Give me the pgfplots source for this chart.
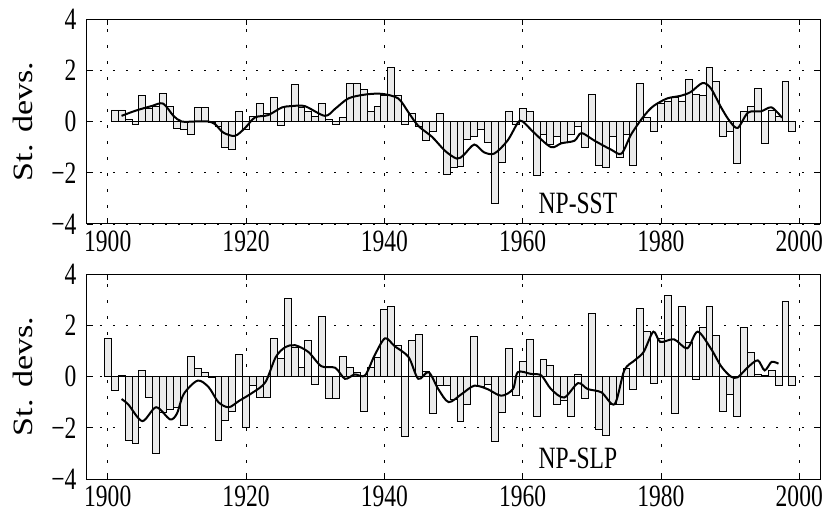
\documentclass[border=0pt]{standalone}
\usepackage{fontspec}
\setmainfont{Liberation Serif}[FakeStretch=0.76]
\usepackage{graphicx}
\usepackage{pgfplots}
\pgfplotsset{compat=1.18}

\pgfplotsset{
  npanel/.style={
    scale only axis, width=733bp, height=205bp,
    xmin=1897, xmax=2003, ymin=-4, ymax=4,
    xtick={1900,1920,...,2000},
    ytick={-4,-2,0,2,4}, yticklabels={−4,−2,0,2,4},
    /pgf/number format/1000 sep={},
    /pgf/number format/assume math mode=true,
    tick label style={font=\fontsize{31bp}{31bp}\selectfont},
    yticklabel style={xshift=-7bp},
    xticklabel style={yshift=-3bp},
    tick align=inside, major tick length=6bp,
    tick style={black, line width=0.9bp},
    axis line style={line width=1bp},
    grid=major,
    x grid style={black, line width=0.8bp, dash pattern=on 3bp off 13bp},
    y grid style={black, line width=0.9bp, dash pattern=on 2bp off 11bp},
    ylabel={\scalebox{1.6}[1.0]{St. devs.}},
    ylabel style={at={(axis description cs:-0.0873,0.5)}, anchor=center,
                  font=\fontsize{28bp}{28bp}\selectfont},
  },
  bars/.style={ybar, bar width=1, bar shift=0pt, fill=black!8, draw=black, line width=0.8bp},
  smoothline/.style={black, line width=2bp, smooth, mark=none},
}

\begin{document}
\begin{tikzpicture}
\path[use as bounding box] (-87bp,19bp) rectangle (741bp,-499bp);

\begin{axis}[npanel, name=top, at={(0,0)}, anchor=north west]
  \addplot[bars] coordinates {
    (1901,0.45) (1902,0.45) (1903,0.1) (1904,-0.1) (1905,1.0) (1906,0.5) (1907,0.6)
    (1908,1.1) (1909,0.6) (1910,-0.25) (1911,-0.3) (1912,-0.5) (1913,0.55) (1914,0.55)
    (1915,-0.05) (1916,-0.2) (1917,-1.0) (1918,-1.1) (1919,0.4) (1920,-0.3) (1921,0.2)
    (1922,0.7) (1923,0.3) (1924,0.95) (1925,-0.15) (1926,0.6) (1927,1.43) (1928,0.55)
    (1929,0.4) (1930,0.2) (1931,0.7) (1932,0.1) (1933,-0.1) (1934,0.15) (1935,1.5)
    (1936,1.5) (1937,1.25) (1938,0.4) (1939,0.6) (1940,1.0) (1941,2.1) (1942,1.0)
    (1943,-0.1) (1944,0.3) (1945,-0.2) (1946,-0.75) (1947,-0.4) (1948,0.3) (1949,-2.05)
    (1950,-1.8) (1951,-1.75) (1952,-0.7) (1953,-0.6) (1954,-0.3) (1955,-0.8) (1956,-3.2)
    (1957,-1.6) (1958,0.4) (1959,-0.1) (1960,0.5) (1961,0.4) (1962,-2.1) (1963,-0.5)
    (1964,-0.9) (1965,-0.6) (1966,-0.8) (1967,-0.5) (1968,-0.2) (1969,-1.0) (1970,1.05)
    (1971,-1.7) (1972,-1.8) (1973,-0.6) (1974,-1.4) (1975,-0.5) (1976,-1.7) (1977,1.5)
    (1978,0.15) (1979,-0.4) (1980,0.7) (1981,0.8) (1982,0.95) (1983,0.8) (1984,1.65)
    (1985,1.05) (1986,1.0) (1987,2.1) (1988,1.55) (1989,-0.6) (1990,-0.4) (1991,-1.65)
    (1992,0.4) (1993,0.6) (1994,1.3) (1995,-0.85) (1996,0.45) (1997,0.2) (1998,1.55)
    (1999,-0.4)
  };
  \addplot[smoothline] coordinates {
    (1902,0.22) (1904,0.42) (1906.3,0.6) (1908,0.7) (1909.5,0.22) (1910.7,0) (1912.6,0)
    (1914.5,0) (1915.5,-0.1) (1916.7,-0.43) (1918.4,-0.56) (1919.9,-0.24) (1921.3,0.16)
    (1923.2,0.25) (1925.2,0.55) (1926.6,0.6) (1928.5,0.6) (1931.4,0.22) (1932.9,0.5)
    (1934.8,0.9) (1937.2,1.05) (1939.6,1.08) (1942,0.9) (1943.5,0.35) (1944.9,-0.17)
    (1946.9,-0.6) (1948.8,-1.15) (1950.5,-1.45) (1951.5,-1.3) (1953,-0.9) (1954.4,-1.2)
    (1955.9,-1.25) (1957.8,-0.75) (1959.3,-0.05) (1960,0) (1961.7,-0.45) (1964.1,-1.0)
    (1965.6,-0.85) (1967.5,-0.75) (1968.5,-0.45) (1970.4,-0.75) (1972.8,-1.1)
    (1974.3,-1.25) (1975.7,-0.5) (1977.5,0.2) (1978.9,0.6) (1980.9,0.9) (1982.8,1.0)
    (1984.3,1.15) (1986,1.5) (1987.2,1.3) (1988.7,0.55) (1989.9,0.03) (1991.1,-0.25)
    (1992.6,0.35) (1994.5,0.4) (1996,0.55) (1997.5,0.15)
  };
  \node[font=\fontsize{31bp}{31bp}\selectfont] at (axis cs:1968,-3.2) {NP-SST};
\end{axis}

\begin{axis}[npanel, name=bottom, at={(0,-255bp)}, anchor=north west]
  \addplot[bars] coordinates {
    (1900,1.5) (1901,-0.55) (1902,0.05) (1903,-2.5) (1904,-2.6) (1905,0.25) (1906,-0.8)
    (1907,-3.0) (1908,-1.4) (1909,-1.3) (1910,-1.2) (1911,-1.9) (1912,0.8) (1913,0.33)
    (1914,0.15) (1915,-0.05) (1916,-2.5) (1917,-1.7) (1918,-1.35) (1919,0.85) (1920,-2.0)
    (1921,-0.35) (1922,-0.8) (1923,-0.8) (1924,1.5) (1925,0.7) (1926,3.05) (1927,1.15)
    (1928,0.35) (1929,1.4) (1930,-0.3) (1931,2.35) (1932,-0.85) (1933,-0.85) (1934,0.8)
    (1935,0.35) (1936,0.15) (1937,-1.35) (1938,0.35) (1939,0.75) (1940,2.6) (1941,2.75)
    (1942,1.2) (1943,-2.35) (1944,1.4) (1945,1.65) (1946,0.2) (1947,-1.45) (1948,-0.35)
    (1949,-0.35) (1950,-0.9) (1951,-1.75) (1952,-1.1) (1953,1.55) (1954,-0.4) (1955,-0.3)
    (1956,-2.55) (1957,-1.4) (1958,1.1) (1959,-0.75) (1960,0.6) (1961,1.45) (1962,-1.55)
    (1963,0.65) (1964,0.45) (1965,-1.1) (1966,-0.95) (1967,-1.55) (1968,0.1) (1969,-0.85)
    (1970,2.45) (1971,-2.05) (1972,-2.3) (1973,-1.1) (1974,-1.1) (1975,0.3) (1976,-0.5)
    (1977,2.65) (1978,1.75) (1979,-0.25) (1980,1.5) (1981,3.15) (1982,-1.45) (1983,2.75)
    (1984,1.35) (1985,-0.1) (1986,1.9) (1987,2.75) (1988,1.6) (1989,-1.35) (1990,-0.7)
    (1991,-1.55) (1992,1.9) (1993,0.95) (1994,0.1) (1995,0.05) (1996,0.25) (1997,-0.35)
    (1998,2.95) (1999,-0.35)
  };
  \addplot[smoothline] coordinates {
    (1902,-0.88) (1903,-1.1) (1905,-1.74) (1907,-1.2) (1909,-1.67) (1910,-1.45)
    (1911,-0.68) (1913,-0.16) (1914.6,-0.42) (1916,-1.0) (1917.5,-1.2) (1919,-0.95)
    (1921,-0.62) (1922.8,-0.22) (1924.3,0.76) (1925.7,1.15) (1927.1,1.22) (1929,0.96)
    (1930.9,0.4) (1932.9,0.34) (1934.3,-0.09) (1935.7,0.08) (1937.2,0.04) (1938.6,0.83)
    (1940.1,1.49) (1941.5,1.18) (1943.5,0.76) (1944.9,-0.09) (1946.4,0.17) (1947.8,-0.49)
    (1949.3,-1.0) (1951.2,-0.68) (1953,-0.36) (1954.9,-0.49) (1956.9,-0.75) (1958.6,-0.49)
    (1959.3,0.17) (1961.2,0.1) (1962.7,0.04) (1964.1,-0.49) (1966,-0.82) (1968,-0.26)
    (1969.4,-0.49) (1971.4,-0.62) (1973.3,-1.08) (1974.7,0.24) (1976.2,0.63)
    (1977.5,0.96) (1978.9,1.75) (1979.9,1.35) (1981.9,1.45) (1983.8,1.1) (1985.3,1.75)
    (1987.2,1.1) (1988.7,0.4) (1990.1,0) (1991.1,-0.03) (1992.6,0.37) (1994,0.63)
    (1995,0.24) (1996,0.57) (1997,0.5)
  };
  \node[font=\fontsize{31bp}{31bp}\selectfont] at (axis cs:1968,-3.2) {NP-SLP};
\end{axis}
\end{tikzpicture}
\end{document}
